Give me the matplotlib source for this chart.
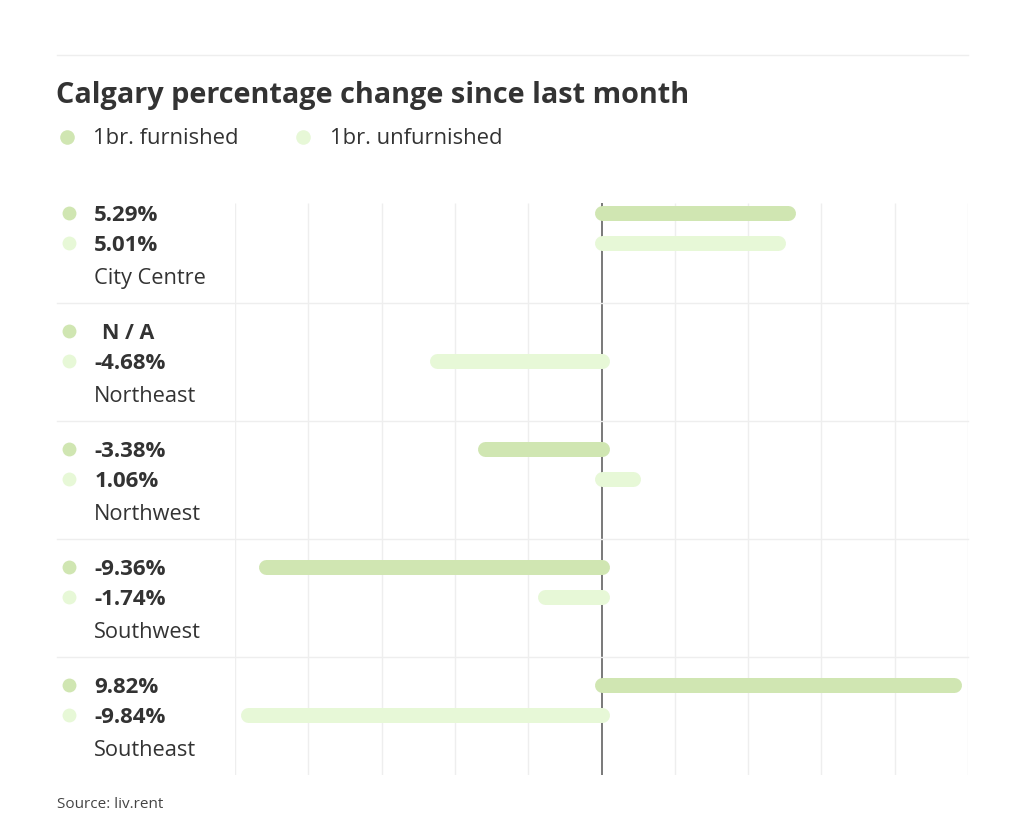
import numpy as np
import matplotlib.pyplot as plt
from matplotlib.lines import Line2D

plt.rcParams['font.family'] = ['Open Sans', 'DejaVu Sans']

TITLE = 'Calgary percentage change since last month'
SERIES = ['1br. furnished', '1br. unfurnished']
REGIONS = ['City Centre', 'Northeast', 'Northwest', 'Southwest', 'Southeast']
furnished = [5.29, np.nan, -3.38, -9.36, 9.82]
unfurnished = [5.01, -4.68, 1.06, -1.74, -9.84]
SOURCE = 'Source: liv.rent'

COLORS = ['#d0e6b2', '#e7f8d7']
TEXT = '#333333'
GRID = '#eeeeee'

W, H = 1024, 836
fig = plt.figure(figsize=(W / 100, H / 100), dpi=100)


def fx(px):
    return px / W


def fy(py):
    return 1 - py / H


# plot area: x from -10 to 10, rows stacked top to bottom
ax = fig.add_axes([fx(235), fy(775), fx(968) - fx(235), fy(185) - fy(775)])
ax.set_xlim(-10, 10)
ax.set_ylim(len(REGIONS), 0)
ax.axis('off')

grid_top = 18 / 118
for x in np.arange(-10, 11, 2):
    if x == 0:
        ax.vlines(x, grid_top, len(REGIONS), color='#555555', lw=1.1, zorder=1)
    else:
        ax.vlines(x, grid_top, len(REGIONS), color=GRID, lw=1, zorder=0)

ytrans = ax.get_yaxis_transform()
for i in range(1, len(REGIONS)):
    ax.add_line(Line2D([-0.243, 1.0], [i, i], transform=ytrans, color=GRID,
                       lw=1, clip_on=False))

bar_lw = 15 * 0.72
cap = (7.5 / 733) * 20  # half bar thickness in data units
offsets = [0.237, 0.49]
label_off = 0.77
text_shift = 0.022

for i, region in enumerate(REGIONS):
    for k, vals in enumerate([furnished, unfurnished]):
        v = vals[i]
        y = i + offsets[k]
        ax.plot([-0.227], [y], transform=ytrans, marker='o', ms=10,
                color=COLORS[k], mec='none', clip_on=False)
        if np.isnan(v):
            ax.text(-0.182, y + text_shift, 'N / A', transform=ytrans,
                    ha='left', va='center', fontsize=15.5, fontweight='bold',
                    color=TEXT)
            continue
        ax.text(-0.192, y + text_shift, f'{v:.2f}%', transform=ytrans,
                ha='left', va='center', fontsize=16, fontweight='bold',
                color=TEXT)
        end = v - np.sign(v) * cap
        ax.plot([0, end], [y, y], color=COLORS[k], lw=bar_lw,
                solid_capstyle='round', zorder=2)
    ax.text(-0.192, i + label_off + text_shift, region, transform=ytrans,
            ha='left', va='center', fontsize=15.7, color=TEXT)

# header
fig.add_artist(Line2D([fx(57), fx(968)], [fy(55), fy(55)], color=GRID, lw=1))
fig.text(fx(56), fy(96), TITLE, fontsize=20.8, fontweight='bold', color=TEXT,
         ha='left', va='center')
for x_dot, x_txt, name, c in zip([67, 303], [93, 330], SERIES, COLORS):
    fig.add_artist(Line2D([fx(x_dot)], [fy(137)], marker='o', ms=10.5,
                          color=c, mec='none'))
    fig.text(fx(x_txt), fy(139), name, fontsize=15.8, color=TEXT,
             ha='left', va='center')

fig.text(fx(57), fy(804), SOURCE, fontsize=11, color='#444444',
         ha='left', va='center')

fig.savefig('out.png', dpi=100)
